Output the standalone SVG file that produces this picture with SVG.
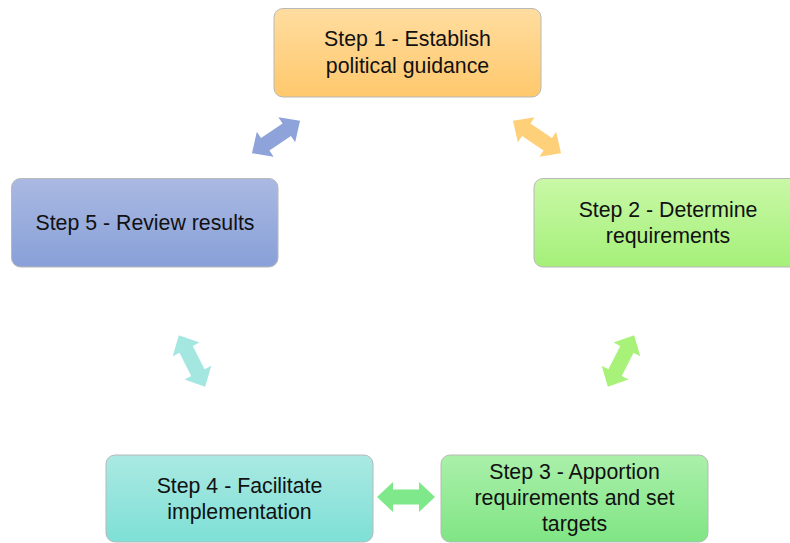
<svg xmlns="http://www.w3.org/2000/svg" width="790" height="543" viewBox="0 0 790 543">
<defs>
<linearGradient id="g1" x1="0" y1="0" x2="0" y2="1"><stop offset="0" stop-color="#FFDDA0"/><stop offset="1" stop-color="#FFC86C"/></linearGradient>
<linearGradient id="g2" x1="0" y1="0" x2="0" y2="1"><stop offset="0" stop-color="#C9F8A6"/><stop offset="1" stop-color="#A5F07A"/></linearGradient>
<linearGradient id="g3" x1="0" y1="0" x2="0" y2="1"><stop offset="0" stop-color="#AAF0AA"/><stop offset="1" stop-color="#80E584"/></linearGradient>
<linearGradient id="g4" x1="0" y1="0" x2="0" y2="1"><stop offset="0" stop-color="#AAE9E3"/><stop offset="1" stop-color="#7EE0D6"/></linearGradient>
<linearGradient id="g5" x1="0" y1="0" x2="0" y2="1"><stop offset="0" stop-color="#AAB9E2"/><stop offset="1" stop-color="#88A0D8"/></linearGradient>
<path id="dbl" d="M-29,0 L-13,-15 L-13,-7.5 L13,-7.5 L13,-15 L29,0 L13,15 L13,7.5 L-13,7.5 L-13,15 Z"/>
</defs>
<style>
.box{stroke:#B8B8B8;stroke-width:1}
.t{font-family:"Liberation Sans",Arial,sans-serif;font-size:21.3px;fill:#111;text-anchor:middle}
</style>
<g id="connectors">
<use href="#dbl" fill="#8EA3DA" transform="translate(276,137) rotate(-34)"/>
<use href="#dbl" fill="#FFD07A" transform="translate(537,137) rotate(34)"/>
<use href="#dbl" fill="#A8F27A" transform="translate(621,361) rotate(-63)"/>
<use href="#dbl" fill="#A3E7E0" transform="translate(192,361) rotate(63)"/>
<use href="#dbl" fill="#7FE88A" transform="translate(406,497)"/>
</g>
<g id="step1">
<rect class="box" x="274" y="8.5" width="267" height="88.5" rx="9" fill="url(#g1)"/>
<text class="t" x="407.5" y="46"><tspan x="407.5" y="46">Step 1 - Establish</tspan><tspan x="407.5" y="73">political guidance</tspan></text>
</g>
<g id="step2">
<rect class="box" x="534" y="178.5" width="270" height="88.5" rx="9" fill="url(#g2)"/>
<text class="t" x="668" y="217"><tspan x="668" y="217">Step 2 - Determine</tspan><tspan x="668" y="243">requirements</tspan></text>
</g>
<g id="step3">
<rect class="box" x="441" y="455" width="267" height="87" rx="9" fill="url(#g3)"/>
<text class="t" x="574.5" y="479"><tspan x="574.5" y="479">Step 3 - Apportion</tspan><tspan x="574.5" y="505">requirements and set</tspan><tspan x="574.5" y="531">targets</tspan></text>
</g>
<g id="step4">
<rect class="box" x="106" y="455" width="267" height="87" rx="9" fill="url(#g4)"/>
<text class="t" x="239.5" y="493"><tspan x="239.5" y="493">Step 4 - Facilitate</tspan><tspan x="239.5" y="519">implementation</tspan></text>
</g>
<g id="step5">
<rect class="box" x="11.5" y="178.5" width="266.5" height="88.5" rx="9" fill="url(#g5)"/>
<text class="t" x="145" y="230">Step 5 - Review results</text>
</g>
</svg>
